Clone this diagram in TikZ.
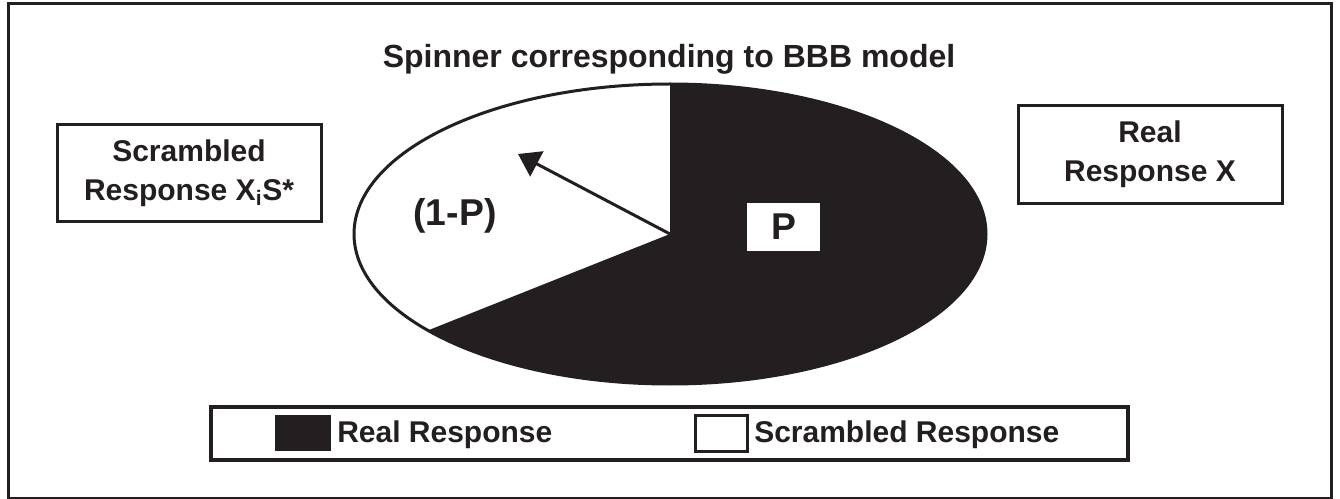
\documentclass[tikz,border=0pt]{standalone}
\usepackage{fontspec}
\setmainfont{Liberation Sans}
\usetikzlibrary{arrows.meta}
\definecolor{ink}{HTML}{231F20}
\begin{document}
\begin{tikzpicture}[x=0.75pt,y=-0.75pt,
  every node/.style={text=ink, inner sep=0pt},
  boldtext/.style={font=\fontsize{22.5}{29.25}\selectfont\bfseries},
  labelbox/.style={boldtext, draw=ink, line width=2.25pt, minimum width=198pt,
    minimum height=73pt, align=center},
  rim/.style={draw=ink, line width=2.25pt},
  pointerline/.style={draw=ink, line width=2.25pt, -{Triangle[length=16pt,width=21pt]}}]
\useasboundingbox (0,0) rectangle (1340,499);
% outer frame
\draw[draw=ink, line width=2.25pt] (8,4) rectangle (1331,498);

% title
\node[anchor=base, font=\fontsize{24}{24}\selectfont\bfseries] (title) at (669,68)
  {Spinner corresponding to BBB model};

% side boxes
\node[labelbox] (scrambled) at (189,173) {Scrambled\\Response X\textsubscript{i}S*};
\node[labelbox] (real) at (1150,154.5) {Real\\Response X};

% spinner
\coordinate (hub) at (670,234);
\coordinate (pointer) at (518,154);
\fill[white] (hub) ellipse [x radius=316, y radius=150];
\fill[ink] (hub) -- plot[domain=-90:140, samples=160] ({670+316*cos(\x)},{234+150*sin(\x)}) -- cycle;
\draw[rim] (hub) ellipse [x radius=316, y radius=150];
\draw[pointerline] (hub) -- (pointer);

\node[font=\fontsize{28}{28}\selectfont\bfseries] (share) at (455,216) {(1-P)};
\node[fill=white, minimum width=55pt, minimum height=36pt,
  font=\fontsize{28}{28}\selectfont\bfseries] (pbox) at (783.5,227) {P};

% legend
\node[draw=ink, line width=2.6pt, minimum width=688pt, minimum height=40pt] (legend) at (669.5,433.5) {};
\node[fill=ink, minimum width=42pt, minimum height=27pt] (keyreal) at (303,433) {};
\node[draw=ink, line width=1.8pt, fill=white, minimum width=39pt, minimum height=27pt] (keyscr) at (721.5,433.5) {};
\node[boldtext, anchor=base west] (realtxt) at (337,442) {Real Response};
\node[boldtext, anchor=base west] (scrtxt) at (754,442) {Scrambled Response};
\end{tikzpicture}
\end{document}
